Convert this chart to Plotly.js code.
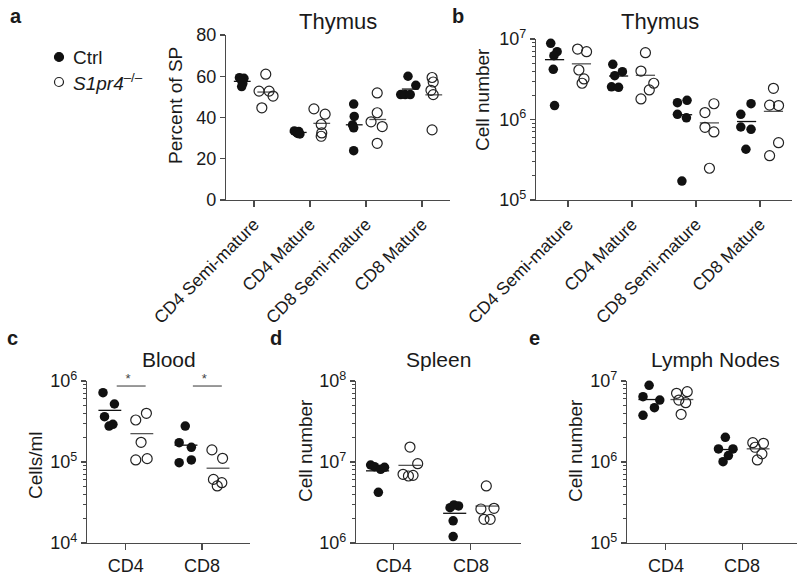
<!DOCTYPE html>
<html><head><meta charset="utf-8">
<script src="https://cdn.plot.ly/plotly-3.0.1.min.js"></script>
<style>html,body{margin:0;padding:0;background:#fff}#chart{width:800px;height:576px}</style>
</head><body><div id="chart"></div>
<script>
// ---------------- data ----------------
const thymusCats = ['CD4 Semi-mature', 'CD4 Mature', 'CD8 Semi-mature', 'CD8 Mature'];
const periphCats = ['CD4', 'CD8'];
const legendLabels = ['Ctrl', '<i>S1pr4</i><sup>\u2013/\u2013</sup>'];

// a: Thymus, percent of SP
const aCtrl = [[59.3, 59.0, 57.8, 56.5, 55.0], [33.5, 33.2, 32.8, 32.3, 32.0], [46.5, 40.5, 36.4, 35.0, 23.9], [60.0, 55.6, 51.1, 51.1, 51.1]];
const aCtrlJit = [[-0.26, -0.18, -0.22, -0.2, -0.22], [-0.28, -0.2, -0.24, -0.22, -0.18], [-0.22, -0.21, -0.24, -0.22, -0.22], [-0.25, -0.11, -0.38, -0.3, -0.21]];
const aKO = [[61.0, 52.8, 52.8, 50.4, 44.7], [44.2, 41.6, 36.6, 32.5, 30.9], [51.9, 42.3, 37.9, 35.6, 27.5], [59.4, 57.2, 53.2, 51.1, 34.0]];
const aKOJit = [[0.21, 0.09, 0.27, 0.34, 0.14], [0.07, 0.27, 0.2, 0.21, 0.2], [0.2, 0.2, 0.09, 0.29, 0.2], [0.18, 0.2, 0.16, 0.2, 0.18]];

// b: Thymus, cell number
const bCtrl = [[8.84e6, 6.95e6, 6.2e6, 4.2e6, 1.49e6], [4.85e6, 3.5e6, 3.93e6, 2.55e6, 2.51e6], [1.62e6, 1.73e6, 1.16e6, 1.05e6, 1.72e5], [1.57e6, 1.16e6, 8.07e5, 7.55e5, 4.27e5]];
const bCtrlJit = [[-0.27, -0.17, -0.22, -0.23, -0.21], [-0.3, -0.27, -0.15, -0.32, -0.21], [-0.29, -0.14, -0.29, -0.15, -0.22], [-0.14, -0.3, -0.3, -0.14, -0.22]];
const bKO = [[7.5e6, 6.95e6, 4.12e6, 3.19e6, 2.82e6], [6.76e6, 4.0e6, 2.82e6, 2.33e6, 1.8e6], [1.57e6, 1.22e6, 8.0e5, 7.0e5, 2.48e5], [2.44e6, 1.51e6, 1.49e6, 5.15e5, 3.55e5]];
const bKOJit = [[0.15, 0.29, 0.17, 0.25, 0.22], [0.21, 0.14, 0.34, 0.27, 0.14], [0.28, 0.14, 0.14, 0.28, 0.21], [0.21, 0.15, 0.29, 0.29, 0.15]];

// c: Blood, cells/ml
const cCtrl = [[7.18e5, 5.2e5, 3.63e5, 2.78e5, 2.92e5], [2.78e5, 1.73e5, 1.52e5, 9.8e4, 1.06e5]];
const cCtrlJit = [[-0.3, -0.15, -0.28, -0.22, -0.17], [-0.22, -0.3, -0.14, -0.3, -0.14]];
const cKO = [[3.99e5, 3.3e5, 1.75e5, 1.06e5, 1.1e5], [1.41e5, 1.11e5, 6.1e4, 5.55e4, 5.06e4]];
const cKOJit = [[0.27, 0.13, 0.2, 0.13, 0.28], [0.13, 0.27, 0.15, 0.26, 0.2]];
const cSigLevel = [8.67e5, 8.67e5];
const cSigText = ['*', '*'];

// d: Spleen, cell number
const dCtrl = [[9.18e6, 8.75e6, 8.13e6, 8.6e6, 4.23e6], [2.73e6, 2.87e6, 2.95e6, 1.88e6, 1.2e6]];
const dCtrlJit = [[-0.3, -0.25, -0.17, -0.12, -0.2], [-0.27, -0.16, -0.22, -0.23, -0.23]];
const dKO = [[1.53e7, 9.53e6, 7.05e6, 6.72e6, 6.84e6], [5.06e6, 2.63e6, 2.68e6, 1.96e6, 1.96e6]];
const dKOJit = [[0.21, 0.31, 0.12, 0.19, 0.25], [0.2, 0.13, 0.3, 0.17, 0.25]];

// e: Lymph nodes, cell number
const eCtrl = [[8.85e6, 6.4e6, 5.82e6, 4.68e6, 3.77e6], [2.02e6, 1.45e6, 1.45e6, 1.2e6, 1.01e6]];
const eCtrlJit = [[-0.22, -0.3, -0.08, -0.15, -0.3], [-0.22, -0.31, -0.12, -0.18, -0.25]];
const eKO = [[7.05e6, 7.38e6, 5.82e6, 5.4e6, 3.88e6], [1.73e6, 1.7e6, 1.52e6, 1.26e6, 1.06e6]];
const eKOJit = [[0.14, 0.28, 0.17, 0.26, 0.2], [0.14, 0.28, 0.17, 0.26, 0.2]];

// ---------------- drawing ----------------
const FONT = '"Liberation Sans", Arial, Helvetica, sans-serif';
const TXT = '#1a1a1a';
const AX = '#4a4a4a';
const GROUP_CENTER = 0.21, HALF = 0.15;

const traces = [];
function mean(a) { return a.reduce((s, v) => s + v, 0) / a.length; }
function addPanel(xa, ya, ctrl, ctrlJit, ko, koJit) {
  [[ctrl, -GROUP_CENTER, '#111'], [ko, GROUP_CENTER, '#555']].forEach(([vals, c, col]) => {
    const mx = [], my = [];
    vals.forEach((v, i) => { const m = mean(v); mx.push(i + c - HALF, i + c + HALF, null); my.push(m, m, null); });
    traces.push({type: 'scatter', mode: 'lines', x: mx, y: my, xaxis: xa, yaxis: ya, showlegend: false,
      line: {color: col, width: 1.3}, hoverinfo: 'skip'});
  });
  const px = [], py = [], kx = [], ky = [];
  ctrl.forEach((v, i) => v.forEach((y, j) => { px.push(i + ctrlJit[i][j]); py.push(y); }));
  ko.forEach((v, i) => v.forEach((y, j) => { kx.push(i + koJit[i][j]); ky.push(y); }));
  traces.push({type: 'scatter', mode: 'markers', name: 'Ctrl', x: px, y: py, xaxis: xa, yaxis: ya,
    showlegend: false, marker: {symbol: 'circle', size: 9.5, color: '#111'}, cliponaxis: false});
  traces.push({type: 'scatter', mode: 'markers', name: 'S1pr4-/-', x: kx, y: ky, xaxis: xa, yaxis: ya,
    showlegend: false, marker: {symbol: 'circle-open', size: 10, color: '#222', line: {width: 1.2, color: '#222'}}, cliponaxis: false});
}
addPanel('x', 'y', aCtrl, aCtrlJit, aKO, aKOJit);
addPanel('x2', 'y2', bCtrl, bCtrlJit, bKO, bKOJit);
addPanel('x3', 'y3', cCtrl, cCtrlJit, cKO, cKOJit);
addPanel('x4', 'y4', dCtrl, dCtrlJit, dKO, dKOJit);
addPanel('x5', 'y5', eCtrl, eCtrlJit, eKO, eKOJit);

// significance bars (panel c)
const sx = [], sy = [], tx = [], ty = [];
cSigLevel.forEach((lv, i) => { sx.push(i - 0.12, i + 0.26, null); sy.push(lv, lv, null); tx.push(i + 0.03); ty.push(lv); });
traces.push({type: 'scatter', mode: 'lines', x: sx, y: sy, xaxis: 'x3', yaxis: 'y3', showlegend: false,
  line: {color: '#555', width: 1.2}, cliponaxis: false, hoverinfo: 'skip'});
traces.push({type: 'scatter', mode: 'text', x: tx, y: ty, text: cSigText, textposition: 'top center',
  textfont: {family: FONT, size: 13, color: '#444'}, xaxis: 'x3', yaxis: 'y3', showlegend: false, cliponaxis: false, hoverinfo: 'skip'});

const W = 800, H = 576;
const fx = v => v / W, fy = v => 1 - v / H;
const base = {showline: true, linecolor: AX, linewidth: 1.2, ticks: 'outside', tickcolor: AX, ticklen: 5, tickwidth: 1.2,
  showgrid: false, zeroline: false, fixedrange: true, tickfont: {family: FONT, size: 18, color: TXT}};
function minorVals(lo, hi) { const out = []; for (let k = lo; k < hi; k++) for (let m = 2; m <= 9; m++) out.push(m * Math.pow(10, k)); return out; }
function logAxis(lo, hi, dom, anchor) {
  const tv = [], tt = [];
  for (let k = lo; k <= hi; k++) { tv.push(Math.pow(10, k)); tt.push('10<sup>' + k + '</sup>'); }
  return Object.assign({}, base, {type: 'log', range: [lo, hi], domain: dom, anchor: anchor, tickmode: 'array', tickvals: tv, ticktext: tt,
    minor: {tickmode: 'array', tickvals: minorVals(lo, hi), ticks: 'outside', ticklen: 3, tickcolor: AX, tickwidth: 1, showgrid: false}});
}
function catAxis(cats, range, dom, anchor, angle, size) {
  return Object.assign({}, base, {range: range, domain: dom, anchor: anchor, tickmode: 'array',
    tickvals: cats.map((_, i) => i), ticktext: cats, tickangle: angle, ticklen: 6,
    tickfont: {family: FONT, size: size, color: TXT}});
}
const topY = [fy(200), fy(35)];
const topYb = [fy(200), fy(39)];
const botY = [fy(543), fy(381)];

const layout = {
  width: W, height: H, margin: {l: 0, r: 0, t: 0, b: 0}, paper_bgcolor: '#fff', plot_bgcolor: 'rgba(0,0,0,0)',
  font: {family: FONT, color: TXT},
  showlegend: false,
  xaxis: catAxis(thymusCats, [-0.5, 3.5], [fx(226), fx(450)], 'y', -45, 17.5),
  yaxis: Object.assign({}, base, {range: [0, 80], dtick: 20, domain: topY, anchor: 'x'}),
  xaxis2: catAxis(thymusCats, [-0.5, 3.5], [fx(536), fx(792)], 'y2', -45, 17.5),
  yaxis2: logAxis(5, 7, topYb, 'x2'),
  xaxis3: catAxis(periphCats, [-0.51, 1.63], [fx(87), fx(250)], 'y3', 0, 18),
  yaxis3: logAxis(4, 6, botY, 'x3'),
  xaxis4: catAxis(periphCats, [-0.49, 1.65], [fx(356), fx(521)], 'y4', 0, 18),
  yaxis4: logAxis(6, 8, botY, 'x4'),
  xaxis5: catAxis(periphCats, [-0.51, 1.72], [fx(627), fx(797)], 'y5', 0, 18),
  yaxis5: logAxis(5, 7, botY, 'x5'),
  annotations: [],
  shapes: []
};
function note(text, x, y, size, opts) {
  layout.annotations.push(Object.assign({text: text, x: fx(x), y: fy(y), xref: 'paper', yref: 'paper', showarrow: false,
    xanchor: 'center', yanchor: 'middle', font: {family: FONT, size: size, color: TXT}}, opts || {}));
}
// legend (drawn manually to match the original spacing)
[[57, '#111', '#111'], [82, 'rgba(0,0,0,0)', '#222']].forEach(([y, fill, line], i) => {
  layout.shapes.push({type: 'circle', xref: 'paper', yref: 'paper', xsizemode: 'pixel', ysizemode: 'pixel',
    xanchor: fx(59), yanchor: fy(y), x0: -4.5, x1: 4.5, y0: -4.5, y1: 4.5, fillcolor: fill, line: {color: line, width: 1.2}});
  note(legendLabels[i], 71, y, 19, {xanchor: 'left'});
});
// panel letters
[['a', 16, 16], ['b', 458, 16], ['c', 12, 338], ['d', 276, 338], ['e', 534, 338]].forEach(([t, x, y]) =>
  note('<b>' + t + '</b>', x, y, 20));
// panel titles
note('Thymus', 338, 22, 22); note('Thymus', 660, 22, 22);
note('Blood', 169, 359, 21); note('Spleen', 438, 359, 21); note('Lymph Nodes', 715, 359, 21);
// axis titles
note('Percent of SP', 175, 106, 19, {textangle: -90});
note('Cell number', 482, 100, 19, {textangle: -90});
note('Cells/ml', 35, 465, 19, {textangle: -90});
note('Cell number', 305, 451, 19, {textangle: -90});
note('Cell number', 575, 451, 19, {textangle: -90});

Plotly.newPlot('chart', traces, layout, {displayModeBar: false, staticPlot: true});
</script></body></html>
